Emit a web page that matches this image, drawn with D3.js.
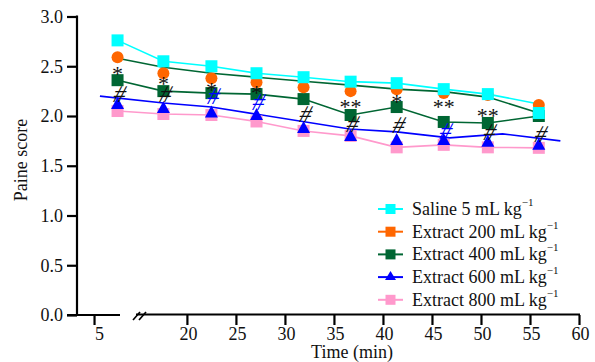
<!DOCTYPE html>
<html>
<head>
<meta charset="utf-8">
<script src="https://cdn.jsdelivr.net/npm/d3@7"></script>
<style>
  body { margin: 0; background: #fff; }
  text { font-family: "Liberation Serif", "Times New Roman", serif; fill: #111; }
</style>
</head>
<body>
<div id="chart"></div>
<script>
// time points (min)
var times = [7.4, 17.6, 22.5, 27.1, 31.9, 36.7, 41.4, 46.2, 50.7, 55.9];

var salineVals = [2.76, 2.55, 2.50, 2.43, 2.39, 2.345, 2.33, 2.27, 2.22, 2.03];
var ext200Vals = [2.59, 2.43, 2.38, 2.34, 2.29, 2.25, 2.27, 2.23, 2.21, 2.11];
var ext400Vals = [2.36, 2.25, 2.23, 2.22, 2.17, 2.01, 2.09, 1.94, 1.93, 2.0];
var ext600Vals = [2.12, 2.08, 2.035, 2.01, 1.88, 1.80, 1.76, 1.76, 1.74, 1.71];
var ext800Vals = [2.05, 2.02, 2.01, 1.945, 1.85, 1.80, 1.685, 1.71, 1.685, 1.68];

// connecting lines as drawn in the figure (they do not all follow the markers)
var salineLine = [2.76, 2.55, 2.50, 2.43, 2.39, 2.345, 2.33, 2.27, 2.22, 2.12];
var ext200Line = [2.58, 2.49, 2.43, 2.39, 2.35, 2.31, 2.27, 2.245, 2.19, 2.03];
var ext600LineTimes = [5.6, 17.6, 22.5, 36.6, 41.4, 46.8, 52.2, 58.1];
var ext600Line = [2.2, 2.13, 2.09, 1.87, 1.84, 1.78, 1.82, 1.75];

var legendLabels = ["Saline 5 mL kg", "Extract 200 mL kg", "Extract 400 mL kg",
  "Extract 600 mL kg", "Extract 800 mL kg"];
var colors = ["#00ffff", "#ff6600", "#006633", "#0000ff", "#ff99cc"];

var xTicks = [5, 20, 25, 30, 35, 40, 45, 50, 55, 60];
var yTicks = [0, 0.5, 1.0, 1.5, 2.0, 2.5, 3.0];

// significance marks: index of time point, symbol, value position, colour
var starMarks = [[0, "*", 2.47], [1, "*", 2.37], [2, "*", 2.31], [3, "*", 2.28],
  [5, "**", 2.14], [6, "*", 2.19], [7, "**", 2.14], [8, "**", 2.05]];
var hashMarks = [[0, "#", 2.21, "#111"], [1, "#", 2.21, "#111"], [2, "#", 2.19, "#0000ff"],
  [3, "#", 2.13, "#0000ff"], [4, "#", 2.01, "#111"], [5, "#", 1.91, "#111"],
  [6, "#", 1.90, "#111"], [7, "#", 1.84, "#0000ff"], [8, "#", 1.83, "#111"], [9, "#", 1.81, "#111"]];

var width = 595, height = 362;
var serif = '"Liberation Serif", "Times New Roman", serif';

var svg = d3.select("#chart").append("svg")
  .attr("width", width)
  .attr("height", height);

// broken x axis: 2.2-7.6 on the left piece, 14.5-60 on the right piece
var x = d3.scaleLinear()
  .domain([2.24, 7.65, 14.5, 60])
  .range([67, 120, 133, 579]);

var y = d3.scaleLinear()
  .domain([0, 3])
  .range([315, 16.5]);

// y axis
var yAxis = svg.append("g")
  .attr("transform", "translate(77,0)")
  .call(d3.axisLeft(y).tickValues(yTicks).tickFormat(d3.format(".1f")).tickSize(10).tickPadding(4));
yAxis.attr("font-family", serif);
yAxis.select(".domain").remove();
yAxis.selectAll(".tick line").attr("stroke", "#000").attr("stroke-width", 2.2);
yAxis.selectAll(".tick text").style("font-size", "18px").style("font-family", serif).attr("fill", "#111");
svg.append("line")
  .attr("x1", 77).attr("x2", 77)
  .attr("y1", y(3) - 1).attr("y2", y(0) + 1)
  .attr("stroke", "#000").attr("stroke-width", 2.2);

// x axis
var xAxis = svg.append("g")
  .attr("transform", "translate(0," + y(0) + ")")
  .call(d3.axisBottom(x).tickValues(xTicks).tickSize(10).tickPadding(2));
xAxis.attr("font-family", serif);
xAxis.select(".domain").remove();
xAxis.selectAll(".tick line").attr("stroke", "#000").attr("stroke-width", 2.2);
xAxis.selectAll(".tick text").style("font-size", "18px").style("font-family", serif)
  .attr("fill", "#111").attr("dx", function (d) { return d == 5 ? 5 : 1; });

svg.append("line")
  .attr("x1", 67).attr("x2", 120)
  .attr("y1", y(0)).attr("y2", y(0))
  .attr("stroke", "#000").attr("stroke-width", 2.2);
svg.append("line")
  .attr("x1", 136).attr("x2", 580)
  .attr("y1", y(0) - 0.5).attr("y2", y(0) - 0.5)
  .attr("stroke", "#000").attr("stroke-width", 2.2);
// break marks
[0, 6].forEach(function (o) {
  svg.append("line")
    .attr("x1", 133 + o).attr("y1", y(0) + 5)
    .attr("x2", 140 + o).attr("y2", y(0) - 3)
    .attr("stroke", "#000").attr("stroke-width", 1.6);
});

svg.append("text")
  .attr("x", 352).attr("y", 358)
  .attr("text-anchor", "middle")
  .style("font-size", "18px")
  .text("Time (min)");

svg.append("text")
  .attr("transform", "translate(27,160) rotate(-90)")
  .attr("text-anchor", "middle")
  .style("font-size", "18px")
  .text("Paine score");

// lines
var line = d3.line()
  .x(function (d) { return x(d[0]); })
  .y(function (d) { return y(d[1]); });

function pairs(ts, vs) {
  return ts.map(function (t, i) { return [t, vs[i]]; });
}

var lineData = [
  { pts: pairs(times, ext800Vals), color: colors[4] },
  { pts: pairs(ext600LineTimes, ext600Line), color: colors[3] },
  { pts: pairs(times, ext400Vals), color: colors[2] },
  { pts: pairs(times, ext200Line), color: colors[2] },
  { pts: pairs(times, salineLine), color: colors[0] }
];

svg.selectAll(".series-line")
  .data(lineData)
  .enter()
  .append("path")
  .attr("class", "series-line")
  .attr("d", function (d) { return line(d.pts); })
  .attr("fill", "none")
  .attr("stroke", function (d) { return d.color; })
  .attr("stroke-width", 1.6);

// marker helpers
function drawMarkers(vals, shape, color) {
  var g = svg.append("g");
  vals.forEach(function (v, i) {
    var cx = x(times[i]), cy = y(v);
    if (shape == "square") {
      g.append("rect")
        .attr("x", cx - 6).attr("y", cy - 6)
        .attr("width", 12).attr("height", 12)
        .attr("fill", color);
    } else if (shape == "circle") {
      g.append("circle")
        .attr("cx", cx).attr("cy", cy).attr("r", 6)
        .attr("fill", color);
    } else {
      g.append("path")
        .attr("d", "M" + cx + "," + (cy - 7) + "L" + (cx + 6.5) + "," + (cy + 5) + "L" + (cx - 6.5) + "," + (cy + 5) + "Z")
        .attr("fill", color);
    }
  });
}

drawMarkers(ext800Vals, "square", colors[4]);
drawMarkers(ext600Vals, "triangle", colors[3]);
drawMarkers(ext400Vals, "square", colors[2]);
drawMarkers(ext200Vals, "circle", colors[1]);
drawMarkers(salineVals, "square", colors[0]);

// significance symbols
svg.selectAll(".star")
  .data(starMarks)
  .enter()
  .append("text")
  .attr("class", "star")
  .attr("x", function (d) { return x(times[d[0]]); })
  .attr("y", function (d) { return y(d[2]) + 12; })
  .attr("text-anchor", "middle")
  .style("font-size", "22px")
  .text(function (d) { return d[1]; });

svg.selectAll(".hash")
  .data(hashMarks)
  .enter()
  .append("text")
  .attr("class", "hash")
  .attr("transform", function (d) {
    return "translate(" + x(times[d[0]]) + "," + (y(d[2]) + 7) + ") skewX(-18)";
  })
  .attr("text-anchor", "middle")
  .style("font-size", "24px")
  .style("fill", function (d) { return d[3]; })
  .text(function (d) { return d[1]; });

// legend
var legend = svg.append("g").attr("transform", "translate(378,209)");
var shapes = ["square", "square", "square", "triangle", "square"];
legendLabels.forEach(function (lab, i) {
  var row = legend.append("g").attr("transform", "translate(0," + (i * 22.7) + ")");
  row.append("line")
    .attr("x1", 0).attr("x2", 25)
    .attr("stroke", colors[i]).attr("stroke-width", 2);
  if (shapes[i] == "triangle") {
    row.append("path").attr("d", "M12.5,-6L18,3L7,3Z").attr("fill", colors[i]);
  } else {
    row.append("rect")
      .attr("x", 7.5).attr("y", -5).attr("width", 10).attr("height", 10)
      .attr("fill", colors[i]);
  }
  var t = row.append("text")
    .attr("x", 34).attr("y", 6)
    .style("font-size", "18px")
    .text(lab);
  t.append("tspan")
    .attr("dy", -9)
    .style("font-size", "11px")
    .text("\u22121");
});
</script>
</body>
</html>
